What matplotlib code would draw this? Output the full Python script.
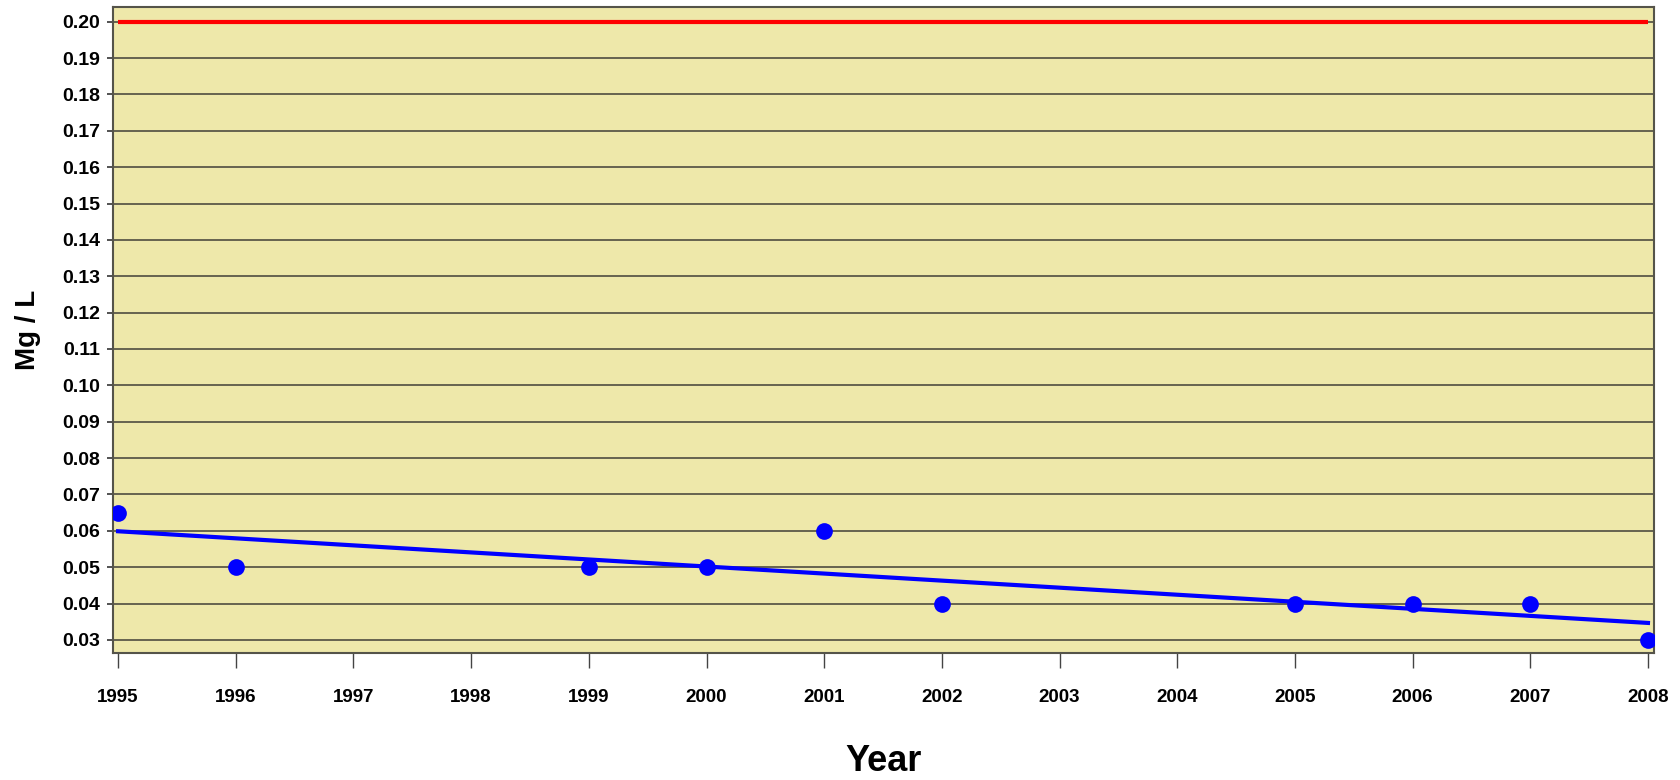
import numpy as np
import matplotlib
matplotlib.use("Agg")
import matplotlib.pyplot as plt

# Measured concentrations by year
years = [1995, 1996, 1999, 2000, 2001, 2002, 2005, 2006, 2007, 2008]
values = [0.065, 0.050, 0.050, 0.050, 0.060, 0.040, 0.040, 0.040, 0.040, 0.030]

# Regulatory limit drawn as a horizontal line
limit_value = 0.20
limit_span = [1995, 2008]

x_ticks = list(range(1995, 2009))
y_ticks = [round(0.03 + 0.01 * i, 2) for i in range(18)]

plt.rcParams["font.family"] = ["Liberation Sans", "DejaVu Sans"]

fig = plt.figure(figsize=(16.8, 7.8), dpi=100)
ax = fig.add_axes([0.067, 0.1628, 0.9175, 0.8276])
ax.set_facecolor("#EEE8AA")

# Horizontal grid
for yv in y_ticks:
    ax.axhline(yv, color="#5b5848", lw=1.3, zorder=1)

# Limit line
ax.plot(limit_span, [limit_value, limit_value], color="#ff0000", lw=3, zorder=3,
        solid_capstyle="butt")

# Linear trend fitted to the measurements
coef = np.polyfit(years, values, 1)
fit_x = np.array([years[0], years[-1]])
ax.plot(fit_x, np.polyval(coef, fit_x), color="#0000ff", lw=3, zorder=3)

ax.scatter(years, values, s=145, color="#0000ff", zorder=4, linewidths=0)

ax.set_xlim(1994.953, 2008.051)
ax.set_ylim(0.0264, 0.2039)
ax.set_xticks(x_ticks)
ax.set_xticklabels([str(v) for v in x_ticks], fontweight="bold")
ax.set_yticks(y_ticks)
ax.set_yticklabels([f"{v:.2f}" for v in y_ticks], fontweight="bold")

for sp in ax.spines.values():
    sp.set_color("#55544a")
    sp.set_linewidth(1.5)

ax.tick_params(axis="x", length=11, width=1, color="#444444", pad=15,
               labelsize=13.5, labelcolor="black")
ax.tick_params(axis="y", length=4, width=1.3, color="#444444", pad=5,
               labelsize=14, labelcolor="black")

ax.set_xlabel("Year", fontsize=26, fontweight="bold", labelpad=27)
ax.set_ylabel("Mg / L", fontsize=20, fontweight="bold", labelpad=15)

fig.savefig("out.png", dpi=100, facecolor="white")
